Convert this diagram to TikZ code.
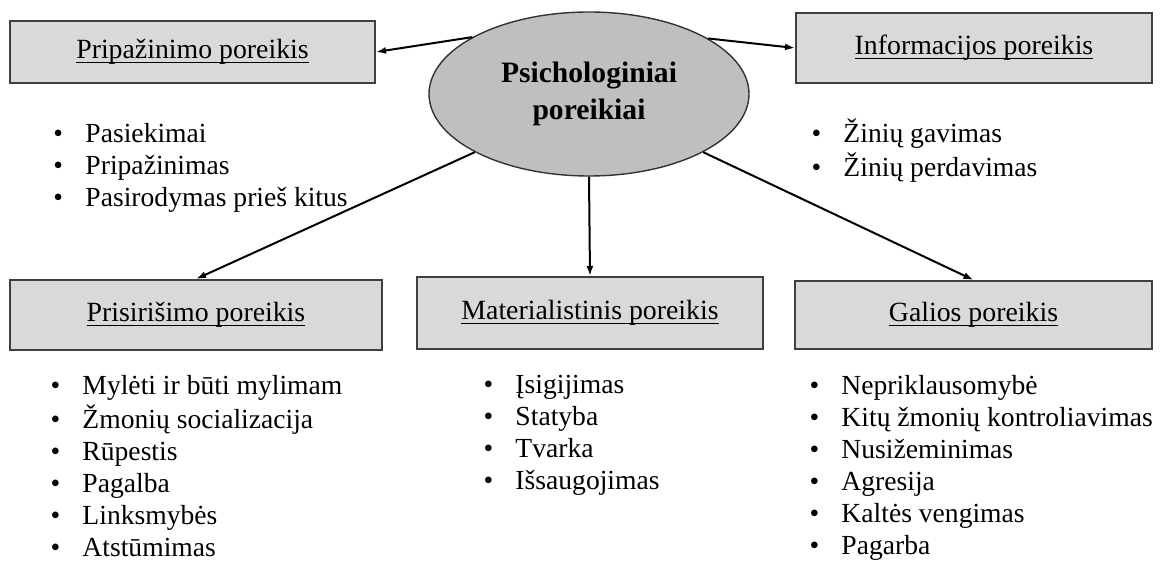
\documentclass[tikz,border=0pt]{standalone}
\usepackage{fontspec}
\setmainfont{Liberation Serif}
\usetikzlibrary{shapes.geometric,arrows.meta,positioning}

\newcommand{\needtitle}[1]{\setbox0\hbox{#1}\rlap{\rule[-2.2pt]{\wd0}{0.6pt}}\box0}
\newcommand{\blt}{\makebox[16pt][l]{\textbullet}}

\tikzset{
  needbox/.style={rectangle, draw=black!75, fill=black!15, line width=1pt, inner sep=0pt, font=\fontsize{13.9}{16}\selectfont},
  needlist/.style={anchor=base west, inner sep=0pt, font=\fontsize{13.8}{16}\selectfont}
}

\begin{document}
\begin{tikzpicture}[x=0.5pt, y=-0.5pt, >={Latex[length=5pt,width=3.5pt]}, line width=1pt]
    \useasboundingbox (0,0) rectangle (1163,565);

    % Nodes
    \node (psich) [ellipse, draw=black!80, line width=0.7pt, fill=black!25, minimum width=160pt, minimum height=82pt, inner sep=0pt, align=center, font=\fontsize{14.8}{18.5}\selectfont\bfseries] at (589,94) {Psichologiniai\\poreikiai};

    \node (pripaz) [needbox, minimum width=182.5pt, minimum height=31pt] at (192.5,52) {\needtitle{Pripažinimo poreikis}};
    \node (inform) [needbox, minimum width=178pt, minimum height=35pt] at (974,48) {\needtitle{Informacijos poreikis}};
    \node (prisir) [needbox, minimum width=186pt, minimum height=35pt] at (196,315) {\needtitle{Prisirišimo poreikis}};
    \node (mater) [needbox, minimum width=173pt, minimum height=36pt] at (590,313) {\needtitle{Materialistinis poreikis}};
    \node (galios) [needbox, minimum width=178.5pt, minimum height=34pt] at (973.5,315) {\needtitle{Galios poreikis}};

    % Lists
    \node (pripazlist) [needlist] at (52.5,143) {\begin{tabular}[t]{@{}l@{}}\blt Pasiekimai\\ \blt Pripažinimas\\ \blt Pasirodymas prieš kitus\end{tabular}};
    \node (informlist) [needlist] at (810.5,143) {\begin{tabular}[t]{@{}l@{}}\blt Žinių gavimas\\ \blt Žinių perdavimas\end{tabular}};
    \node (prisirlist) [needlist] at (49.5,395) {\begin{tabular}[t]{@{}l@{}}\blt Mylėti ir būti mylimam\\ \blt Žmonių socializacija\\ \blt Rūpestis\\ \blt Pagalba\\ \blt Linksmybės\\ \blt Atstūmimas\end{tabular}};
    \node (materlist) [needlist] at (482.5,394) {\begin{tabular}[t]{@{}l@{}}\blt Įsigijimas\\ \blt Statyba\\ \blt Tvarka\\ \blt Išsaugojimas\end{tabular}};
    \node (galioslist) [needlist] at (808.5,395) {\begin{tabular}[t]{@{}l@{}}\blt Nepriklausomybė\\ \blt Kitų žmonių kontroliavimas\\ \blt Nusižeminimas\\ \blt Agresija\\ \blt Kaltės vengimas\\ \blt Pagarba\end{tabular}};

    % Edges
    \draw[->] (psich.154) -- (pripaz.east);
    \draw[->] (psich.25) -- (inform.west);
    \draw[->] (psich.207) -- (prisir.north);
    \draw[->] (psich.south) -- (mater.north);
    \draw[->] (psich.333) -- (galios.north);
\end{tikzpicture}
\end{document}
